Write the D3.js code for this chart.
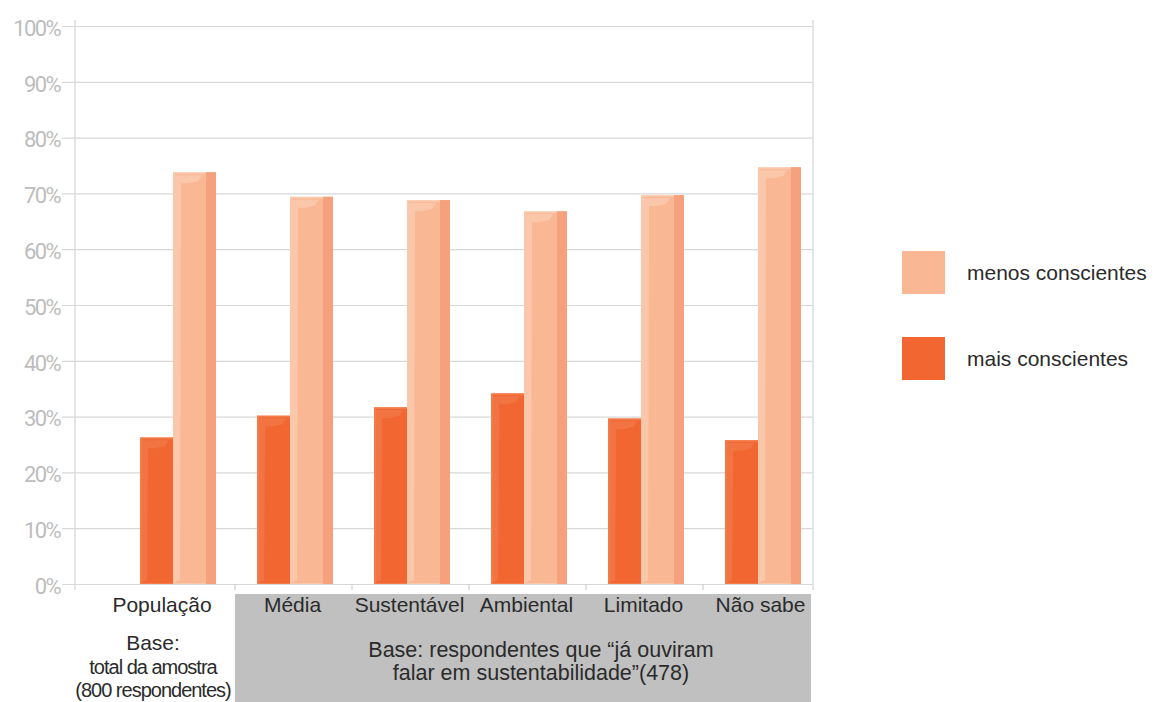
<!DOCTYPE html>
<html>
<head>
<meta charset="utf-8">
<script src="https://cdn.jsdelivr.net/npm/d3@7"></script>
<style>
  body { margin: 0; background: #fff; }
  svg { display: block; }
  .ytick text { font-family: Roboto, "Liberation Sans", sans-serif; font-size: 22px; fill: #bdbdbd; }
  .lbl { font-family: "Liberation Sans", Arial, sans-serif; fill: #2b2b2b; }
</style>
</head>
<body>
<div id="chart"></div>
<script>
var categories = ["População", "Média", "Sustentável", "Ambiental", "Limitado", "Não sabe"];
var maisConscientes = [26.3, 30.2, 31.7, 34.2, 29.7, 25.8];
var menosConscientes = [73.8, 69.4, 68.8, 66.8, 69.7, 74.7];
var yTicks = [0, 10, 20, 30, 40, 50, 60, 70, 80, 90, 100];
var seriesNames = ["menos conscientes", "mais conscientes"];

var W = 1161, H = 702;
var svg = d3.select("#chart").append("svg").attr("width", W).attr("height", H);

var y = d3.scaleLinear().domain([0, 100]).range([584, 26]);
var x = d3.scaleBand().domain(categories).range([118, 820]).padding(0);

var cLight = "#f9b794", cLightSide = "#f5a17d", cLightHi = "#fbc7aa";
var cDark = "#f26632", cDarkEdge = "#f37a49", cDarkHi = "#f48658";

// grey base box under the survey categories
svg.append("rect")
  .attr("x", x(categories[1])).attr("y", 594)
  .attr("width", 811 - x(categories[1])).attr("height", H - 594)
  .attr("fill", "#bfc0bf");

// gridlines + y labels
var yAxis = d3.axisLeft(y).tickValues(yTicks).tickFormat(function (d) { return d + "%"; })
  .tickSize(-(813 - 62)).tickPadding(2);
var gy = svg.append("g").attr("class", "ytick").attr("transform", "translate(62,0)").call(yAxis);
gy.select(".domain").remove();
gy.selectAll("line").attr("stroke", "#d8d8d8").attr("stroke-width", 1.2);
gy.selectAll("text").attr("dy", "0.42em").style("letter-spacing", "-1.6px");

// vertical frame lines
svg.append("line").attr("x1", 75).attr("x2", 75).attr("y1", 20).attr("y2", 590)
  .attr("stroke", "#dcdcdc").attr("stroke-width", 1.5);
svg.append("line").attr("x1", 813).attr("x2", 813).attr("y1", 20).attr("y2", 590)
  .attr("stroke", "#dcdcdc").attr("stroke-width", 1.5);
// category separator ticks
svg.selectAll(".sep").data(categories.slice(1)).enter().append("line")
  .attr("x1", function (d) { return x(d); }).attr("x2", function (d) { return x(d); })
  .attr("y1", 584).attr("y2", 590).attr("stroke", "#cfcfcf").attr("stroke-width", 1.2);

function hiPath(x0, yTop, w, h) {
  // left highlight strip curving to the right at top
  var top = yTop + 3;
  return "M" + (x0 + 2) + "," + (yTop + h - 2) +
    "L" + (x0 + 2) + "," + top +
    "L" + (x0 + w - 4) + "," + top +
    "L" + (x0 + w - 8) + "," + (top + 6) +
    "Q" + (x0 + 9) + "," + (top + 7) + " " + (x0 + 8) + "," + (top + 22) +
    "L" + (x0 + 7) + "," + (yTop + h - 4) + "Z";
}

var groups = svg.selectAll(".grp").data(categories).enter().append("g")
  .attr("transform", function (d) { return "translate(" + x(d) + ",0)"; });

// dark bars (mais conscientes)
groups.each(function (d, i) {
  var g = d3.select(this);
  var v = maisConscientes[i], top = y(v), h = y(0) - top;
  var bx = 22, bw = 33;
  g.append("rect").attr("x", bx).attr("y", top).attr("width", bw).attr("height", h).attr("fill", cDarkEdge);
  g.append("rect").attr("x", bx + 2).attr("y", top + 2).attr("width", bw - 2).attr("height", h - 3).attr("fill", cDark);
  g.append("path").attr("d", hiPath(bx, top, bw, h)).attr("fill", cDarkHi).attr("opacity", 0.45);
  g.append("rect").attr("x", bx + 8).attr("y", top + 11).attr("width", bw - 8).attr("height", h - 14).attr("fill", cDark);
});

// light bars (menos conscientes)
groups.each(function (d, i) {
  var g = d3.select(this);
  var v = menosConscientes[i], top = y(v), h = y(0) - top;
  var bx = 55, bw = 43;
  g.append("rect").attr("x", bx).attr("y", top).attr("width", bw).attr("height", h).attr("fill", cLightHi);
  g.append("rect").attr("x", bx + 2).attr("y", top + 2).attr("width", bw - 2).attr("height", h - 3).attr("fill", cLight);
  g.append("path").attr("d", hiPath(bx, top, bw - 10, h)).attr("fill", cLightHi);
  g.append("rect").attr("x", bx + 8).attr("y", top + 11).attr("width", bw - 18).attr("height", h - 14).attr("fill", cLight);
  g.append("rect").attr("x", bx + bw - 10).attr("y", top).attr("width", 10).attr("height", h).attr("fill", cLightSide);
});

// category labels
svg.selectAll(".cat").data(categories).enter().append("text")
  .attr("class", "lbl")
  .attr("x", function (d, i) { return i === 0 ? 162 : x(d) + x.bandwidth() / 2 - 1; })
  .attr("y", 612).attr("text-anchor", "middle").style("font-size", "21px")
  .text(function (d) { return d; });

// base notes
var baseLeft = ["Base:", "total da amostra", "(800 respondentes)"];
var baseLeftY = [650, 674, 697];
svg.selectAll(".bl").data(baseLeft).enter().append("text")
  .attr("class", "lbl").attr("x", 153).attr("y", function (d, i) { return baseLeftY[i]; })
  .attr("text-anchor", "middle")
  .style("font-size", function (d, i) { return i === 0 ? "21px" : "20px"; })
  .style("letter-spacing", function (d, i) { return i === 0 ? "0px" : "-1px"; })
  .text(function (d) { return d; });

var baseRight = ["Base: respondentes que “já ouviram", "falar em sustentabilidade”(478)"];
svg.selectAll(".br").data(baseRight).enter().append("text")
  .attr("class", "lbl").attr("x", 541).attr("y", function (d, i) { return 657 + i * 23; })
  .attr("text-anchor", "middle").style("font-size", "21.5px")
  .text(function (d) { return d; });

// legend
var legColors = [cLight, cDark];
var leg = svg.selectAll(".leg").data(seriesNames).enter().append("g")
  .attr("transform", function (d, i) { return "translate(902," + (251 + i * 86) + ")"; });
leg.append("rect").attr("width", 43).attr("height", 43)
  .attr("fill", function (d, i) { return legColors[i]; });
leg.append("text").attr("class", "lbl").attr("x", 65).attr("y", 29)
  .style("font-size", "21px").text(function (d) { return d; });
</script>
</body>
</html>
